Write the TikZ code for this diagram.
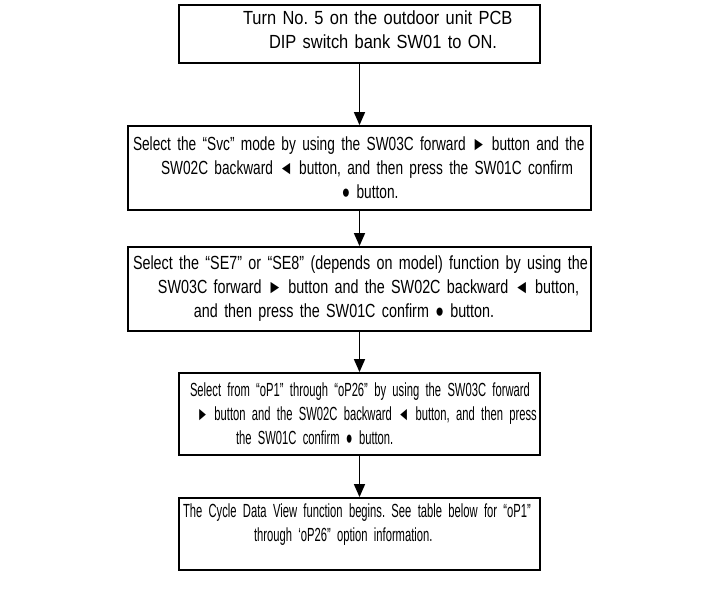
\documentclass[tikz,border=0pt]{standalone}
\usepackage{fontspec}
\setmainfont{Liberation Sans}
\newfontfamily\wideface{Liberation Sans}[FakeStretch=0.865,WordSpace=0.8]
\newfontfamily\svcface{Liberation Sans}[FakeStretch=0.72,WordSpace=0.8]
\newfontfamily\seface{Liberation Sans}[FakeStretch=0.755,WordSpace=0.8]
\newfontfamily\tightface{Liberation Sans}[FakeStretch=0.59,WordSpace=0.8]
\usetikzlibrary{arrows.meta,positioning}

\tikzset{
  stepbox/.style={draw=black,line width=0.9pt,align=left,inner xsep=1pt,inner ysep=0pt},
  narrowbox/.style={stepbox,minimum width=180.5pt,text width=178.5pt},
  widebox/.style={stepbox,minimum width=231.5pt,text width=229.5pt},
  flow/.style={-{Triangle[length=6.5pt,width=5.5pt]},line width=0.75pt}
}
\newcommand{\boxtext}[1]{\fontsize{9.5}{12}#1\frenchspacing}
\newcommand{\boxline}[2]{\hspace*{#1pt}\mbox{#2}}

\begin{document}
\begin{tikzpicture}[x=0.5pt,y=-0.5pt]
\useasboundingbox (0,0) rectangle (718,594);
\node[narrowbox,minimum height=29pt,text depth=16pt,font=\boxtext\wideface] (sw01) at (359.5,34)
  {\boxline{31}{Turn No. 5 on the outdoor unit PCB}\\
   \boxline{44}{DIP switch bank SW01 to ON.}};
\node[widebox,minimum height=42pt,font=\boxtext\svcface] (svc) at (359.5,168)
  {\boxline{1.5}{Select the “Svc” mode by using the SW03C forward ► button and the}\\
   \boxline{15.5}{SW02C backward ◄ button, and then press the SW01C confirm}\\
   \boxline{106}{● button.}};
\node[widebox,minimum height=42pt,font=\boxtext\seface] (se) at (359.5,289)
  {\boxline{1.5}{Select the “SE7” or “SE8” (depends on model) function by using the}\\
   \boxline{14}{SW03C forward ► button and the SW02C backward ◄ button,}\\
   \boxline{32}{and then press the SW01C confirm ● button.}};
\node[narrowbox,minimum height=41pt,font=\boxtext\tightface] (op) at (359.5,414)
  {\boxline{4.5}{Select from “oP1” through “oP26” by using the SW03C forward}\\
   \boxline{8}{► button and the SW02C backward ◄ button, and then press}\\
   \boxline{27.5}{the SW01C confirm ● button.}};
\node[narrowbox,minimum height=36pt,text depth=23pt,font=\boxtext\tightface] (cdv) at (359.5,534)
  {\boxline{1}{The Cycle Data View function begins. See table below for “oP1”}\\
   \boxline{36.5}{through ‘oP26” option information.}};
\draw[flow] (sw01) -- (svc);
\draw[flow] (svc) -- (se);
\draw[flow] (se) -- (op);
\draw[flow] (op) -- (cdv);
\end{tikzpicture}
\end{document}
